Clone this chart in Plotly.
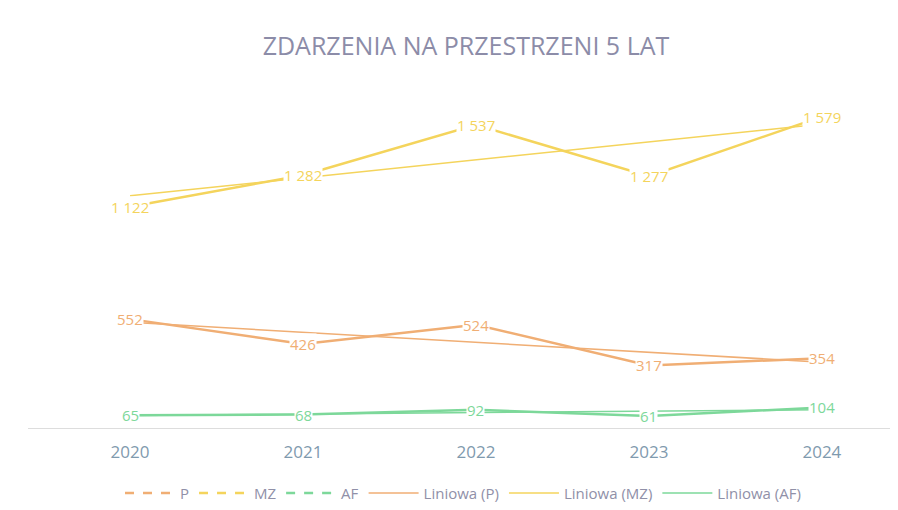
import plotly.graph_objects as go
import numpy as np

years = [2020, 2021, 2022, 2023, 2024]
series_names = ["P", "MZ", "AF"]
values_P = [552, 426, 524, 317, 354]
values_MZ = [1122, 1282, 1537, 1277, 1579]
values_AF = [65, 68, 92, 61, 104]
label_text_P = ["552", "426", "524", "317", "354"]
label_text_MZ = ["1 122", "1 282", "1 537", "1 277", "1 579"]
label_text_AF = ["65", "68", "92", "61", "104"]

colors = {"P": "#F0AE74", "MZ": "#F4D45C", "AF": "#7DD89A"}
data = {"P": values_P, "MZ": values_MZ, "AF": values_AF}
labels = {"P": label_text_P, "MZ": label_text_MZ, "AF": label_text_AF}

font_family = "Open Sans, Lato, sans-serif"
fig = go.Figure()

# actual series lines (solid in plot)
for name in series_names:
    fig.add_trace(go.Scatter(x=years, y=data[name], mode="lines", name=name, showlegend=False,
                             line=dict(color=colors[name], width=2.5)))
# legend entries with dashed symbol
for name in series_names:
    fig.add_trace(go.Scatter(x=[None], y=[None], mode="lines", name=name,
                             line=dict(color=colors[name], width=2.5, dash="dash")))

for name in series_names:
    x = np.array(years, dtype=float)
    y = np.array(data[name], dtype=float)
    slope, intercept = np.polyfit(x, y, 1)
    trend = slope * x + intercept
    fig.add_trace(go.Scatter(x=years, y=trend.tolist(), mode="lines", name=f"Liniowa ({name})",
                             line=dict(color=colors[name], width=1.5)))

for name in series_names:
    for xv, yv, t in zip(years, data[name], labels[name]):
        fig.add_annotation(x=xv, y=yv, text=t, showarrow=False, bgcolor="white",
                           font=dict(color=colors[name], size=15, family=font_family),
                           borderpad=0)

fig.update_layout(
    width=898, height=510,
    paper_bgcolor="white", plot_bgcolor="white",
    margin=dict(l=20, r=8, t=65, b=86),
    title=dict(text="ZDARZENIA NA PRZESTRZENI 5 LAT", x=0.51, xanchor="center", y=0.925, yanchor="middle",
               font=dict(size=25, color="#8C8CA8", family=font_family)),
    xaxis=dict(range=[2019.41, 2024.44], tickmode="array", tickvals=years,
               ticktext=[str(y) for y in years], showgrid=False, zeroline=False,
               showline=True, linecolor="#DDDDDD", linewidth=1, ticks="outside", ticklen=9,
               tickcolor="rgba(0,0,0,0)",
               tickfont=dict(size=17, color="#7F9AAE", family=font_family)),
    yaxis=dict(range=[0, 1800], showticklabels=False, showgrid=False, zeroline=False),
    legend=dict(orientation="h", x=0.5, xanchor="center", y=-0.184, yanchor="middle",
                font=dict(size=15, color="#9090A8", family=font_family), itemwidth=50),
    showlegend=True,
)

fig.write_html("out.html")
